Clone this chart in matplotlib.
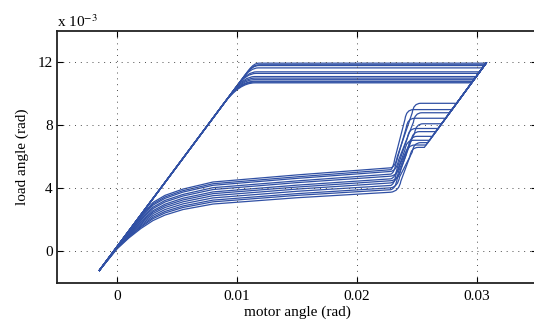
import matplotlib
matplotlib.use("Agg")
import matplotlib.pyplot as plt
from matplotlib.path import Path
from matplotlib.patches import PathPatch

plt.rcParams['font.family'] = ['Liberation Serif', 'DejaVu Serif']
plt.rcParams['mathtext.fontset'] = 'stix'

# all values in units of 1e-3 rad
start_pt = (-1.5, -1.25)      # lower left turning point
corner_pt = (30.8, 12.0)      # upper right turning point

# lower branch (motor angle grid, load angle per cycle)
bot_x = [0.0, 1.0, 2.0, 3.0, 4.0, 5.5, 8.0, 15.0, 22.8]
bot_y = [
    [0.30, 1.30, 2.25, 3.10, 3.55, 3.95, 4.40, 4.85, 5.30],
    [0.29, 1.26, 2.19, 3.01, 3.45, 3.85, 4.29, 4.73, 5.18],
    [0.28, 1.23, 2.13, 2.93, 3.36, 3.76, 4.19, 4.63, 5.07],
    [0.26, 1.18, 2.04, 2.80, 3.23, 3.61, 4.04, 4.47, 4.90],
    [0.25, 1.15, 1.98, 2.71, 3.13, 3.51, 3.92, 4.36, 4.77],
    [0.23, 1.10, 1.89, 2.58, 2.99, 3.37, 3.77, 4.20, 4.60],
    [0.22, 1.06, 1.83, 2.49, 2.89, 3.26, 3.66, 4.08, 4.48],
    [0.21, 1.02, 1.75, 2.39, 2.78, 3.14, 3.53, 3.95, 4.34],
    [0.19, 0.98, 1.67, 2.27, 2.65, 3.01, 3.39, 3.81, 4.18],
    [0.18, 0.93, 1.59, 2.16, 2.53, 2.88, 3.25, 3.66, 4.03],
    [0.17, 0.90, 1.53, 2.07, 2.43, 2.78, 3.14, 3.55, 3.91],
    [0.15, 0.85, 1.45, 1.95, 2.30, 2.65, 3.00, 3.40, 3.75],
]

# steep rise near 0.023 rad and the plateau after it
rise_x0 = [23.2, 23.0, 23.3, 23.1, 23.4, 23.2, 23.5, 23.3, 23.1, 23.4, 23.2, 23.5]
rise_x1 = [24.7, 24.1, 24.8, 24.2, 24.9, 24.3, 24.6, 24.4, 24.1, 24.7, 24.2, 24.5]
mid_lvl = [9.4, 9.0, 8.8, 8.45, 8.1, 7.8, 7.6, 7.3, 7.05, 6.9, 6.75, 6.6]
mid_join_x = [28.3, 27.92, 27.72, 27.39, 27.05, 26.76, 26.57, 26.28, 26.04, 25.9, 25.75, 25.61]

# upper branch
top_lvl = [11.95, 11.85, 11.8, 11.65, 11.4, 11.3, 11.1, 11.0, 10.9, 10.8, 10.75, 10.7]
top_join_x = [30.75, 30.66, 30.61, 30.46, 30.22, 30.13, 29.93, 29.84, 29.74, 29.65, 29.60, 29.55]
knee_ctrl_x = [11.42, 11.32, 11.27, 11.12, 10.88, 10.78, 10.58, 10.48, 10.39, 10.29, 10.24, 10.19]
knee_flat_x = [11.82, 11.82, 11.82, 11.77, 11.63, 11.58, 11.48, 11.48, 11.44, 11.44, 11.44, 11.49]
knee_diag_x = [11.02, 10.82, 10.72, 10.47, 10.13, 9.98, 9.68, 9.48, 9.34, 9.14, 9.04, 8.89]
knee_diag_y = [11.55, 11.34, 11.24, 10.99, 10.64, 10.49, 10.18, 9.98, 9.83, 9.63, 9.53, 9.37]

line_col = '#3050a4'
xs = 1e-3

fig = plt.figure(figsize=(5.34, 3.22), dpi=100)
ax = fig.add_axes([0.1067, 0.122, 0.899, 0.782])

for i in range(len(top_lvl)):
    verts = [start_pt]
    codes = [Path.MOVETO]
    for bx, by in zip(bot_x, bot_y[i]):
        verts.append((bx, by))
        codes.append(Path.LINETO)
    yb = bot_y[i][-1]
    m = mid_lvl[i]
    t = top_lvl[i]
    verts += [(rise_x0[i], yb + 0.05), (rise_x0[i] + 0.15, yb + 0.7)]
    codes += [Path.CURVE3, Path.CURVE3]
    verts.append((rise_x1[i] - 0.1, m - 0.6))
    codes.append(Path.LINETO)
    verts += [(rise_x1[i], m), (rise_x1[i] + 0.6, m)]
    codes += [Path.CURVE3, Path.CURVE3]
    verts += [(mid_join_x[i], m), corner_pt, (top_join_x[i], t), (knee_flat_x[i], t)]
    codes += [Path.LINETO] * 4
    verts += [(knee_ctrl_x[i], t), (knee_diag_x[i], knee_diag_y[i])]
    codes += [Path.CURVE3, Path.CURVE3]
    verts.append(start_pt)
    codes.append(Path.LINETO)
    verts = [(vx * xs, vy) for vx, vy in verts]
    ax.add_patch(PathPatch(Path(verts, codes), facecolor='none',
                           edgecolor=line_col, lw=0.9))

ax.set_xlim(-0.005, 0.035)
ax.set_ylim(-2, 14)
ax.set_xticks([0, 0.01, 0.02, 0.03])
ax.set_xticklabels(['0', '0.01', '0.02', '0.03'])
ax.set_yticks([0, 4, 8, 12])
ax.set_yticklabels(['0', '4', '8', '12'])
ax.tick_params(direction='in', top=True, right=True, labelsize=11,
               length=4, width=0.8)
ax.tick_params(axis='x', pad=5)
ax.tick_params(axis='y', pad=3)
ax.grid(True, color='0.3', linestyle=(0, (1, 5)), linewidth=0.7)
for s in ax.spines.values():
    s.set_linewidth(1.3)
    s.set_color('#222222')

ax.set_xlabel('motor angle (rad)', fontsize=11, labelpad=2)
ax.set_ylabel('load angle (rad)', fontsize=11, labelpad=6)
ax.text(0.0, 1.005, r'x 10$^{-3}$', transform=ax.transAxes, fontsize=11,
        ha='left', va='bottom')

fig.savefig('out.png', dpi=100)
